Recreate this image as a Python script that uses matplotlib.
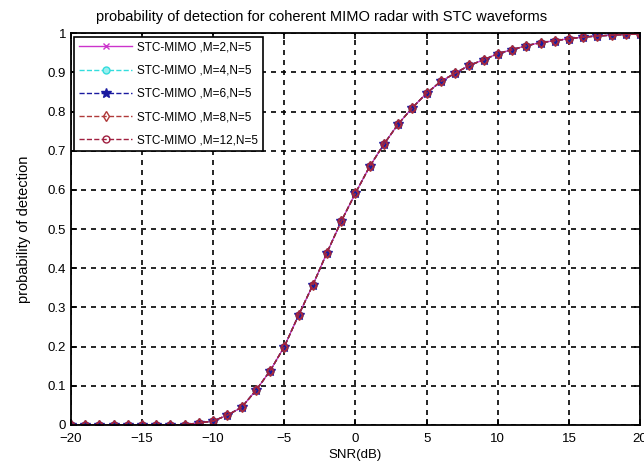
import matplotlib
matplotlib.use('Agg')
import matplotlib.pyplot as plt

plt.rcParams['font.family'] = ['Liberation Sans', 'DejaVu Sans']

#   SNR axis (dB), one point per dB
snr_db = list(range(-20, 21))

#   probability of detection (all M overlap)
pd_m2 = [0.0, 0.0, 0.0, 0.0, 0.0, 0.0, 0.0, 0.0, 0.001,
         0.005, 0.010, 0.025, 0.045, 0.088, 0.138, 0.200, 0.280, 0.357, 0.440,
         0.520, 0.592, 0.660, 0.717, 0.768, 0.810, 0.847, 0.877, 0.898, 0.918,
         0.932, 0.948, 0.958, 0.968, 0.976, 0.981, 0.986, 0.990, 0.993, 0.995,
         0.997, 0.998]
pd_m4 = list(pd_m2)
pd_m6 = list(pd_m2)
pd_m8 = list(pd_m2)
pd_m12 = list(pd_m2)

labels = ['STC-MIMO ,M=2,N=5', 'STC-MIMO ,M=4,N=5', 'STC-MIMO ,M=6,N=5',
          'STC-MIMO ,M=8,N=5', 'STC-MIMO ,M=12,N=5']

fig = plt.figure(figsize=(6.44, 4.68), dpi=100)
ax = fig.add_axes([0.110, 0.092, 0.884, 0.837])

ax.plot(snr_db, pd_m2, '-x', color='#cc33cc', lw=1, ms=5, label=labels[0])
ax.plot(snr_db, pd_m4, '--o', color='#33dddd', lw=1, ms=5, mfc='#99eeee', label=labels[1])
ax.plot(snr_db, pd_m6, '--*', color='#1a1aa0', lw=1, ms=7, label=labels[2])
ax.plot(snr_db, pd_m8, '--d', color='#b03a3a', lw=1, ms=5, mfc='none', label=labels[3])
ax.plot(snr_db, pd_m12, '--o', color='#a02040', lw=1, ms=5, mfc='none', label=labels[4])

ax.set_xlim(-20, 20)
ax.set_ylim(0, 1)
ax.set_xticks(range(-20, 21, 5))
ax.set_yticks([i/10 for i in range(11)])
ax.set_yticklabels(['0', '0.1', '0.2', '0.3', '0.4', '0.5', '0.6', '0.7', '0.8', '0.9', '1'])
ax.grid(True, color='black', linestyle=(0, (3, 3)), linewidth=1.2)
ax.tick_params(direction='in', top=True, right=True, labelsize=9.5, colors='black',
               length=4, width=1.2)
ax.tick_params(axis='x', pad=6)
for sp in ax.spines.values():
    sp.set_linewidth(1.3)

ax.set_title('probability of detection for coherent MIMO radar with STC waveforms',
             fontsize=10.5, pad=9, x=0.44)
ax.set_xlabel('SNR(dB)', fontsize=9.5, labelpad=3)
ax.set_ylabel('probability of detection', fontsize=10.5, labelpad=12)

leg = ax.legend(loc='upper left', fontsize=8.5, fancybox=False, framealpha=1,
                edgecolor='black', borderaxespad=0.3, labelspacing=0.95,
                handlelength=4.5, handletextpad=0.4, borderpad=0.4)
leg.get_frame().set_linewidth(1.2)

fig.savefig('out.png', dpi=100)
